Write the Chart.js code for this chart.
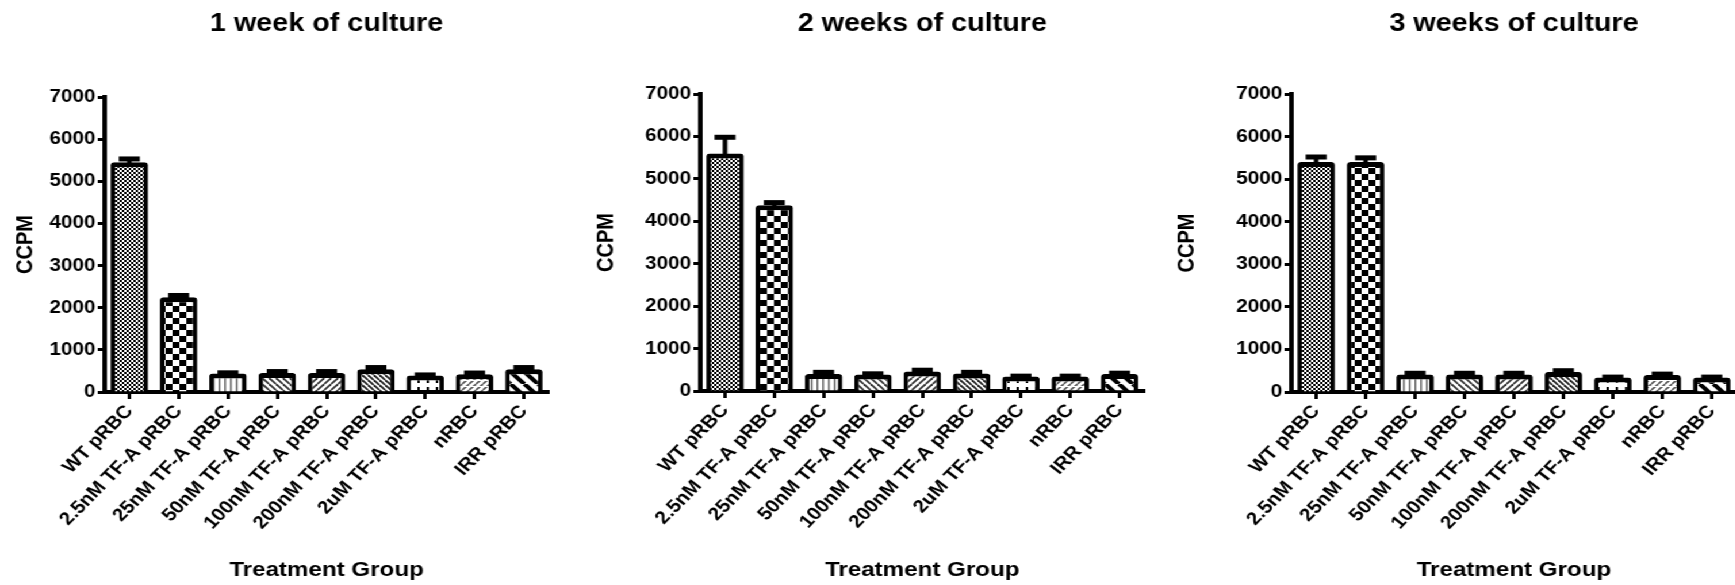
<!DOCTYPE html>
<html>
<head>
<meta charset="utf-8">
<script src="https://cdn.jsdelivr.net/npm/chart.js@4/dist/chart.umd.min.js"></script>
<style>
html, body { margin: 0; padding: 0; background: #fff; overflow: hidden; }
#wrap { position: absolute; left: 0; top: 0; width: 1530px; height: 585px; transform: scaleX(1.15); transform-origin: 0 0; }
#wrap canvas { position: absolute; top: 0; }
</style>
</head>
<body>
<div id="wrap">
  <canvas id="week1" width="505" height="585" style="left:0px"></canvas>
  <canvas id="week2" width="505" height="585" style="left:505px"></canvas>
  <canvas id="week3" width="520" height="585" style="left:1010px"></canvas>
</div>
<script>
var groups = ['WT pRBC', '2.5nM TF-A pRBC', '25nM TF-A pRBC', '50nM TF-A pRBC', '100nM TF-A pRBC',
              '200nM TF-A pRBC', '2uM TF-A pRBC', 'nRBC', 'IRR pRBC'];

var week1Ccpm = [5450, 2250, 440, 450, 450, 540, 390, 420, 540];
var week1Err  = [80, 40, 15, 35, 35, 40, 15, 30, 40];

var week2Ccpm = [5600, 4380, 400, 390, 460, 410, 340, 340, 400];
var week2Err  = [380, 60, 40, 15, 30, 30, 10, 10, 20];

var week3Ccpm = [5400, 5400, 410, 410, 410, 470, 340, 400, 340];
var week3Err  = [120, 100, 30, 30, 30, 30, 10, 20, 10];

var yTicks = [0, 1000, 2000, 3000, 4000, 5000, 6000, 7000];

var FONT = '"Liberation Sans", Arial, sans-serif';

// small tiles used as bar fills
function tile(w, h, draw) {
    var c = document.createElement('canvas');
    c.width = w; c.height = h;
    var g = c.getContext('2d');
    g.fillStyle = '#fff';
    g.fillRect(0, 0, w, h);
    g.fillStyle = '#000';
    g.strokeStyle = '#000';
    draw(g, w, h);
    return g.createPattern(c, 'repeat');
}

function diag(g, s, width, up, color) {
    g.strokeStyle = color;
    g.lineWidth = width;
    for (var k = -1; k <= 1; k++) {
        g.beginPath();
        if (up) { g.moveTo(k * s, s); g.lineTo(k * s + s, 0); }
        else { g.moveTo(k * s, 0); g.lineTo(k * s + s, s); }
        g.stroke();
    }
}

var fills = [
    tile(4, 4, function (g) { g.fillRect(0, 0, 2, 2); g.fillRect(2, 2, 2, 2); }),
    tile(12, 12, function (g) { g.fillRect(0, 0, 6, 6); g.fillRect(6, 6, 6, 6); }),
    tile(5, 5, function (g) { g.fillStyle = '#666'; g.fillRect(0, 0, 1.5, 5); }),
    tile(6, 6, function (g, s) { diag(g, s, 1.8, false, '#333'); }),
    tile(6, 6, function (g, s) { diag(g, s, 1.8, true, '#333'); }),
    tile(5, 5, function (g, s) { diag(g, s, 1.8, false, '#222'); }),
    tile(8, 12, function (g) { g.fillRect(0, 6, 8, 2); g.fillRect(3, 3, 2, 8); }),
    tile(6, 6, function (g, s) { diag(g, s, 1.6, true, '#555'); g.fillStyle = '#fff'; g.fillRect(0, 2, 6, 1); }),
    tile(12, 12, function (g, s) { diag(g, s, 4, false, '#000'); })
];

// upward SEM bars with a cap
var errorBars = {
    id: 'errorBars',
    afterDatasetsDraw: function (chart, args, opts) {
        var ctx = chart.ctx;
        var yScale = chart.scales.y;
        var values = chart.data.datasets[0].data;
        var meta = chart.getDatasetMeta(0);
        ctx.save();
        ctx.fillStyle = '#000';
        meta.data.forEach(function (bar, i) {
            var top = yScale.getPixelForValue(values[i] + opts.errors[i]);
            var half = bar.width * 0.28;
            ctx.fillRect(bar.x - 2, top, 4, bar.y - top + 2);
            ctx.fillRect(bar.x - half, top - 2.5, half * 2, 5);
        });
        ctx.restore();
    }
};

function panel(id, title, values, errors, yWidth, padRight, chartTop, chartBottom) {
    return new Chart(document.getElementById(id), {
        type: 'bar',
        data: {
            labels: groups,
            datasets: [{
                data: values,
                backgroundColor: fills,
                borderColor: '#000',
                borderWidth: { top: 5, left: 4, right: 4, bottom: 0 },
                borderRadius: { topLeft: 3, topRight: 3 },
                barPercentage: 0.76,
                categoryPercentage: 1
            }]
        },
        plugins: [errorBars],
        options: {
            responsive: false,
            animation: false,
            devicePixelRatio: 1,
            layout: { padding: { left: 0, right: padRight, top: 0, bottom: 0 } },
            plugins: {
                legend: { display: false },
                tooltip: { enabled: false },
                title: {
                    display: true,
                    text: title,
                    fullSize: false,
                    color: '#000',
                    font: { family: FONT, size: 25, weight: 'bold', lineHeight: 1.2 },
                    padding: { top: 9, bottom: chartTop - 39 }
                },
                errorBars: { errors: errors }
            },
            scales: {
                x: {
                    offset: true,
                    grid: { offset: false, drawOnChartArea: false, drawTicks: true, tickLength: 7, tickWidth: 3, tickColor: '#000' },
                    border: { display: true, width: 4, color: '#000' },
                    ticks: {
                        autoSkip: false, minRotation: 49, maxRotation: 49, padding: 2, color: '#000',
                        font: { family: FONT, size: 18, weight: 'bold' }
                    },
                    title: {
                        display: true, text: 'Treatment Group', color: '#000',
                        font: { family: FONT, size: 21, weight: 'bold', lineHeight: 1.2 },
                        padding: { top: 0, bottom: 2 }
                    },
                    afterFit: function (s) { s.height = 585 - chartBottom; }
                },
                y: {
                    min: yTicks[0],
                    max: yTicks[yTicks.length - 1],
                    afterBuildTicks: function (s) { s.ticks = yTicks.map(function (v) { return { value: v }; }); },
                    grid: { drawOnChartArea: false, drawTicks: true, tickLength: 6, tickWidth: 3, tickColor: '#000' },
                    border: { display: true, width: 4, color: '#000' },
                    ticks: {
                        padding: 2, color: '#000',
                        font: { family: FONT, size: 18, weight: 'bold' },
                        callback: function (v) { return String(v); }
                    },
                    title: {
                        display: true, text: 'CCPM', color: '#000',
                        font: { family: FONT, size: 20, weight: 'bold', lineHeight: 1.2 },
                        padding: { top: 10, bottom: 0 }
                    },
                    afterFit: function (s) { s.width = yWidth; }
                }
            }
        }
    });
}

panel('week1', '1 week of culture', week1Ccpm, week1Err, 91, 28, 97, 392);
panel('week2', '2 weeks of culture', week2Ccpm, week2Err, 104, 15, 94, 391);
panel('week3', '3 weeks of culture', week3Ccpm, week3Err, 113, 20, 94, 392);
</script>
</body>
</html>
